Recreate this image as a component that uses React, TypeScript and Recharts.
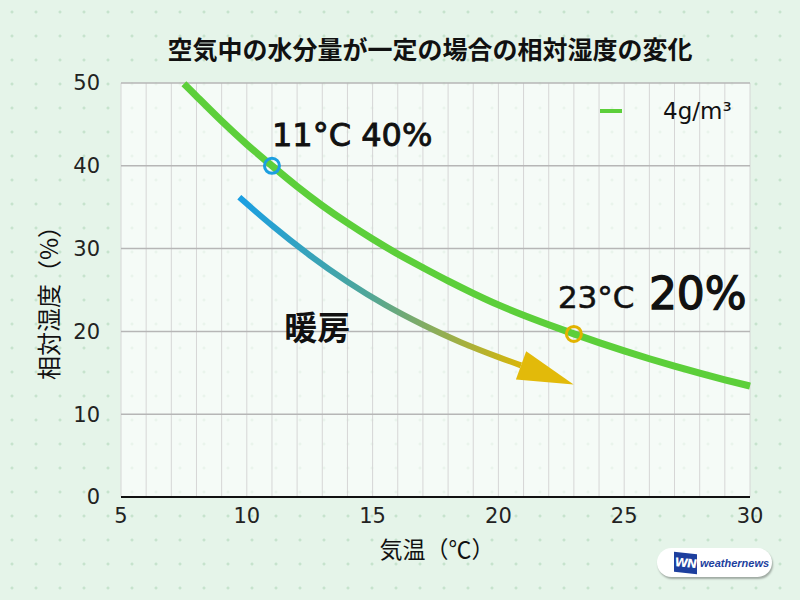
import React from 'react';
import { LineChart, Line, XAxis, YAxis, CartesianGrid, ReferenceDot } from 'recharts';

// Temperature (°C) and relative humidity (%) at a fixed 4 g/m³ water content
const temperatures = [7.5, 8, 9, 10, 11, 12, 13, 14, 15, 16, 17, 18, 19, 20, 21, 22, 23, 24, 25, 26, 27, 28, 29, 30];
const humidity4g = [49.9, 48.4, 45.4, 42.6, 40.0, 37.5, 35.2, 33.1, 31.15, 29.35, 27.7, 26.1, 24.6, 23.2, 21.95, 20.8, 19.7, 18.65, 17.65, 16.7, 15.8, 14.95, 14.15, 13.4];

// "Heating" arrow path (temperature, humidity)
const arrowTemps = [9.7, 11, 12.5, 14, 15.5, 17, 18.5, 20, 20.9];
const arrowHumidity = [36.2, 32.8, 29.2, 26.0, 23.2, 20.8, 18.7, 16.9, 15.9];

const xTicks = [5, 6, 7, 8, 9, 10, 11, 12, 13, 14, 15, 16, 17, 18, 19, 20, 21, 22, 23, 24, 25, 26, 27, 28, 29, 30];
const yTicks = [0, 10, 20, 30, 40, 50];

const markerTemps = [11, 23];
const markerHumidity = [40, 19.7];
const markerTempLabels = ['11°C', '23°C'];
const markerHumLabels = ['40%', '20%'];

const heatingLabel = { t: 12.8, rh: 20.6, text: '暖房' };

const title = '空気中の水分量が一定の場合の相対湿度の変化';
const seriesName = '4g/m³';
const xLabel = '気温（℃）';
const yLabel = '相対湿度（%）';

const curveData = temperatures.map((t, i) => ({ t, rh: humidity4g[i] }));
const arrowData = arrowTemps.map((t, i) => ({ t, rh: arrowHumidity[i] }));

const GREEN = '#5ccf3a';
const LATIN = '"DejaVu Sans", sans-serif';
const CJK = '"Noto Sans CJK JP", sans-serif';

const ArrowHead = (props: any) => {
  const { cx, cy, index, points } = props;
  if (index !== arrowTemps.length - 1) return <g key={`ah-${index}`} />;
  let ang = (22 * Math.PI) / 180;
  if (points && points[index - 1]) {
    const p = points[index - 1];
    ang = Math.atan2(cy - p.y, cx - p.x);
  }
  const len = 56;
  const hw = 15;
  const ux = Math.cos(ang);
  const uy = Math.sin(ang);
  const tip = `${cx + ux * len},${cy + uy * len}`;
  const b1 = `${cx - uy * hw},${cy + ux * hw}`;
  const b2 = `${cx + uy * hw},${cy - ux * hw}`;
  return <polygon key={`ah-${index}`} points={`${b1} ${tip} ${b2}`} fill="#e2ba0a" />;
};

const Marker11 = (props: any) => {
  const { cx, cy } = props;
  return (
    <g>
      <circle cx={cx} cy={cy} r={7.5} fill="none" stroke="#1c9fe0" strokeWidth={3} />
      <text x={cx} y={cy - 20} fontFamily={LATIN} fontSize={32} fill="#111" stroke="#111" strokeWidth={0.9}>
        {`${markerTempLabels[0]} ${markerHumLabels[0]}`}
      </text>
    </g>
  );
};

const Marker23 = (props: any) => {
  const { cx, cy } = props;
  return (
    <g>
      <circle cx={cx} cy={cy} r={7.5} fill="none" stroke="#e2b300" strokeWidth={3} />
      <text x={cx - 16} y={cy - 26} fontFamily={LATIN} fontSize={31} fill="#111" stroke="#111" strokeWidth={0.6}>
        {markerTempLabels[1]}
      </text>
      <text x={cx + 75} y={cy - 25} fontFamily={LATIN} fontSize={44} fill="#111" stroke="#111" strokeWidth={1.3}>
        {markerHumLabels[1]}
      </text>
    </g>
  );
};

const HeatingText = (props: any) => {
  const { cx, cy } = props;
  return (
    <text x={cx} y={cy} textAnchor="middle" dominantBaseline="central" fontFamily={CJK} fontWeight={700} fontSize={33} fill="#111">
      {heatingLabel.text}
    </text>
  );
};

export default function App() {
  return (
    <div
      style={{
        position: 'absolute',
        left: 0,
        top: 0,
        width: 800,
        height: 600,
        backgroundColor: '#e5f4e9',
        backgroundImage: 'radial-gradient(circle at center, rgba(160,205,170,0.45) 1.2px, transparent 1.8px)',
        backgroundSize: '24px 24px',
        overflow: 'hidden',
      }}
    >
      <div
        style={{
          position: 'absolute',
          left: 430,
          top: 48,
          transform: 'translate(-50%, -50%)',
          fontFamily: CJK,
          fontWeight: 700,
          fontSize: 25,
          whiteSpace: 'nowrap',
          color: '#111',
        }}
      >
        {title}
      </div>
      <LineChart width={800} height={600} data={curveData} margin={{ top: 83, right: 50, bottom: 73, left: 0 }}>
        <defs>
          <linearGradient id="arrowGrad" x1="0" y1="0" x2="1" y2="0">
            <stop offset="0%" stopColor="#1a9fe3" />
            <stop offset="45%" stopColor="#4ea69a" />
            <stop offset="100%" stopColor="#d8b60a" />
          </linearGradient>
        </defs>
        <CartesianGrid horizontal={false} stroke="#d6d6d6" strokeWidth={1} fill="rgba(255,255,255,0.62)" />
        <CartesianGrid vertical={false} stroke="#b6b6b6" strokeWidth={1.5} />
        <XAxis
          dataKey="t"
          type="number"
          domain={[5, 30]}
          ticks={xTicks}
          interval={0}
          tickFormatter={(v: number) => (v % 5 === 0 ? String(v) : '')}
          axisLine={{ stroke: '#111', strokeWidth: 2 }}
          tickLine={false}
          tickSize={0}
          tickMargin={11}
          height={30}
          tick={{ fontFamily: LATIN, fontSize: 21, fill: '#222' }}
        />
        <YAxis
          type="number"
          domain={[0, 50]}
          ticks={yTicks}
          interval={0}
          axisLine={false}
          tickLine={false}
          tickSize={0}
          tickMargin={21}
          width={121}
          tick={{ fontFamily: LATIN, fontSize: 21, fill: '#222' }}
        />
        <Line
          data={arrowData}
          dataKey="rh"
          type="natural"
          stroke="url(#arrowGrad)"
          strokeWidth={6}
          dot={ArrowHead}
          activeDot={false}
          legendType="none"
          isAnimationActive={false}
        />
        <Line
          dataKey="rh"
          type="natural"
          name={seriesName}
          stroke={GREEN}
          strokeWidth={7}
          dot={false}
          activeDot={false}
          isAnimationActive={false}
        />
        <ReferenceDot x={markerTemps[0]} y={markerHumidity[0]} r={7} shape={Marker11} />
        <ReferenceDot x={markerTemps[1]} y={markerHumidity[1]} r={7} shape={Marker23} />
        <ReferenceDot x={heatingLabel.t} y={heatingLabel.rh} r={1} shape={HeatingText} />
      </LineChart>
      <div
        style={{
          position: 'absolute',
          left: 600,
          top: 98,
          display: 'flex',
          alignItems: 'center',
          fontFamily: LATIN,
          fontSize: 23,
          color: '#111',
        }}
      >
        <div style={{ width: 22, height: 4, background: GREEN, marginRight: 41 }} />
        <span>{seriesName}</span>
      </div>
      <div
        style={{
          position: 'absolute',
          left: 47,
          top: 297,
          transform: 'translate(-50%, -50%) rotate(-90deg)',
          fontFamily: CJK,
          fontSize: 24,
          whiteSpace: 'nowrap',
          color: '#111',
        }}
      >
        {yLabel}
      </div>
      <div
        style={{
          position: 'absolute',
          left: 437,
          top: 548,
          transform: 'translate(-50%, -50%)',
          fontFamily: CJK,
          fontSize: 23,
          whiteSpace: 'nowrap',
          color: '#111',
        }}
      >
        {xLabel}
      </div>
      <div
        style={{
          position: 'absolute',
          left: 657,
          top: 548,
          width: 115,
          height: 29,
          borderRadius: 15,
          background: '#fff',
          boxShadow: '1px 2px 2px rgba(0,0,0,0.3)',
          display: 'flex',
          alignItems: 'center',
        }}
      >
        <div
          style={{
            marginLeft: 17,
            width: 23,
            height: 20,
            background: '#1d3f9e',
            color: '#fff',
            fontFamily: LATIN,
            fontStyle: 'italic',
            fontWeight: 700,
            fontSize: 12,
            lineHeight: '20px',
            textAlign: 'center',
            letterSpacing: -1,
            transform: 'skewY(6deg)',
          }}
        >
          WN
        </div>
        <div
          style={{
            marginLeft: 3,
            fontFamily: '"Liberation Sans", sans-serif',
            fontStyle: 'italic',
            fontWeight: 700,
            fontSize: 11,
            color: '#1d3f9e',
          }}
        >
          weathernews
        </div>
      </div>
    </div>
  );
}
